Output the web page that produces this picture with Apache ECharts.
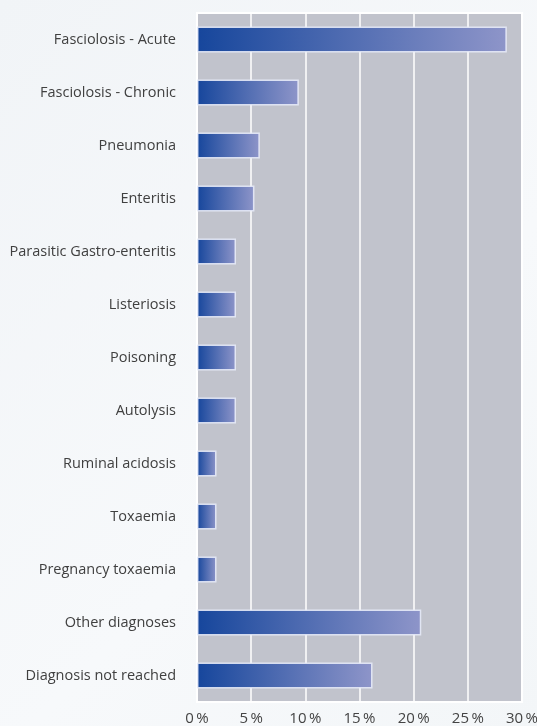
<!DOCTYPE html>
<html>
<head>
<meta charset="utf-8">
<script src="https://cdn.jsdelivr.net/npm/echarts@6/dist/echarts.min.js"></script>
<style>
  html, body { margin: 0; padding: 0; }
  body { background: linear-gradient(135deg, #f1f4f7 0%, #f7f9fb 60%, #f3f6f8 100%); }
  #chart { width: 537px; height: 726px; }
</style>
</head>
<body>
<div id="chart"></div>
<script>
var categories = [
  'Fasciolosis - Acute',
  'Fasciolosis - Chronic',
  'Pneumonia',
  'Enteritis',
  'Parasitic Gastro-enteritis',
  'Listeriosis',
  'Poisoning',
  'Autolysis',
  'Ruminal acidosis',
  'Toxaemia',
  'Pregnancy toxaemia',
  'Other diagnoses',
  'Diagnosis not reached'
];
var percentages = [28.6, 9.4, 5.8, 5.3, 3.6, 3.6, 3.6, 3.6, 1.8, 1.8, 1.8, 20.7, 16.2];

var chart = echarts.init(document.getElementById('chart'));

var barFill = new echarts.graphic.LinearGradient(0, 0, 1, 0, [
  { offset: 0, color: '#16469c' },
  { offset: 1, color: '#8e95c9' }
]);

chart.setOption({
  animation: false,
  grid: {
    left: 197,
    right: 15,
    top: 13,
    bottom: 24,
    outerBoundsMode: 'none',
    show: true,
    backgroundColor: '#c1c3cc',
    borderColor: '#ffffff',
    borderWidth: 2
  },
  xAxis: {
    type: 'value',
    min: 0,
    max: 30,
    interval: 5,
    axisLine: { show: false },
    axisTick: { show: false },
    splitLine: { lineStyle: { color: '#ffffff', width: 1.5 } },
    axisLabel: {
      margin: 9,
      color: '#444444',
      fontFamily: 'Open Sans',
      fontSize: 15,
      formatter: function (v) { return v + '\u2009%'; }
    }
  },
  yAxis: {
    type: 'category',
    data: categories,
    inverse: true,
    axisLine: { show: false },
    axisTick: { show: false },
    axisLabel: {
      margin: 21,
      color: '#404040',
      fontFamily: 'Open Sans',
      fontSize: 14.5
    }
  },
  series: [{
    type: 'bar',
    data: percentages,
    barWidth: 26,
    itemStyle: {
      color: barFill,
      borderColor: 'rgba(235,238,250,0.85)',
      borderWidth: 1.5
    }
  }]
});
</script>
</body>
</html>
